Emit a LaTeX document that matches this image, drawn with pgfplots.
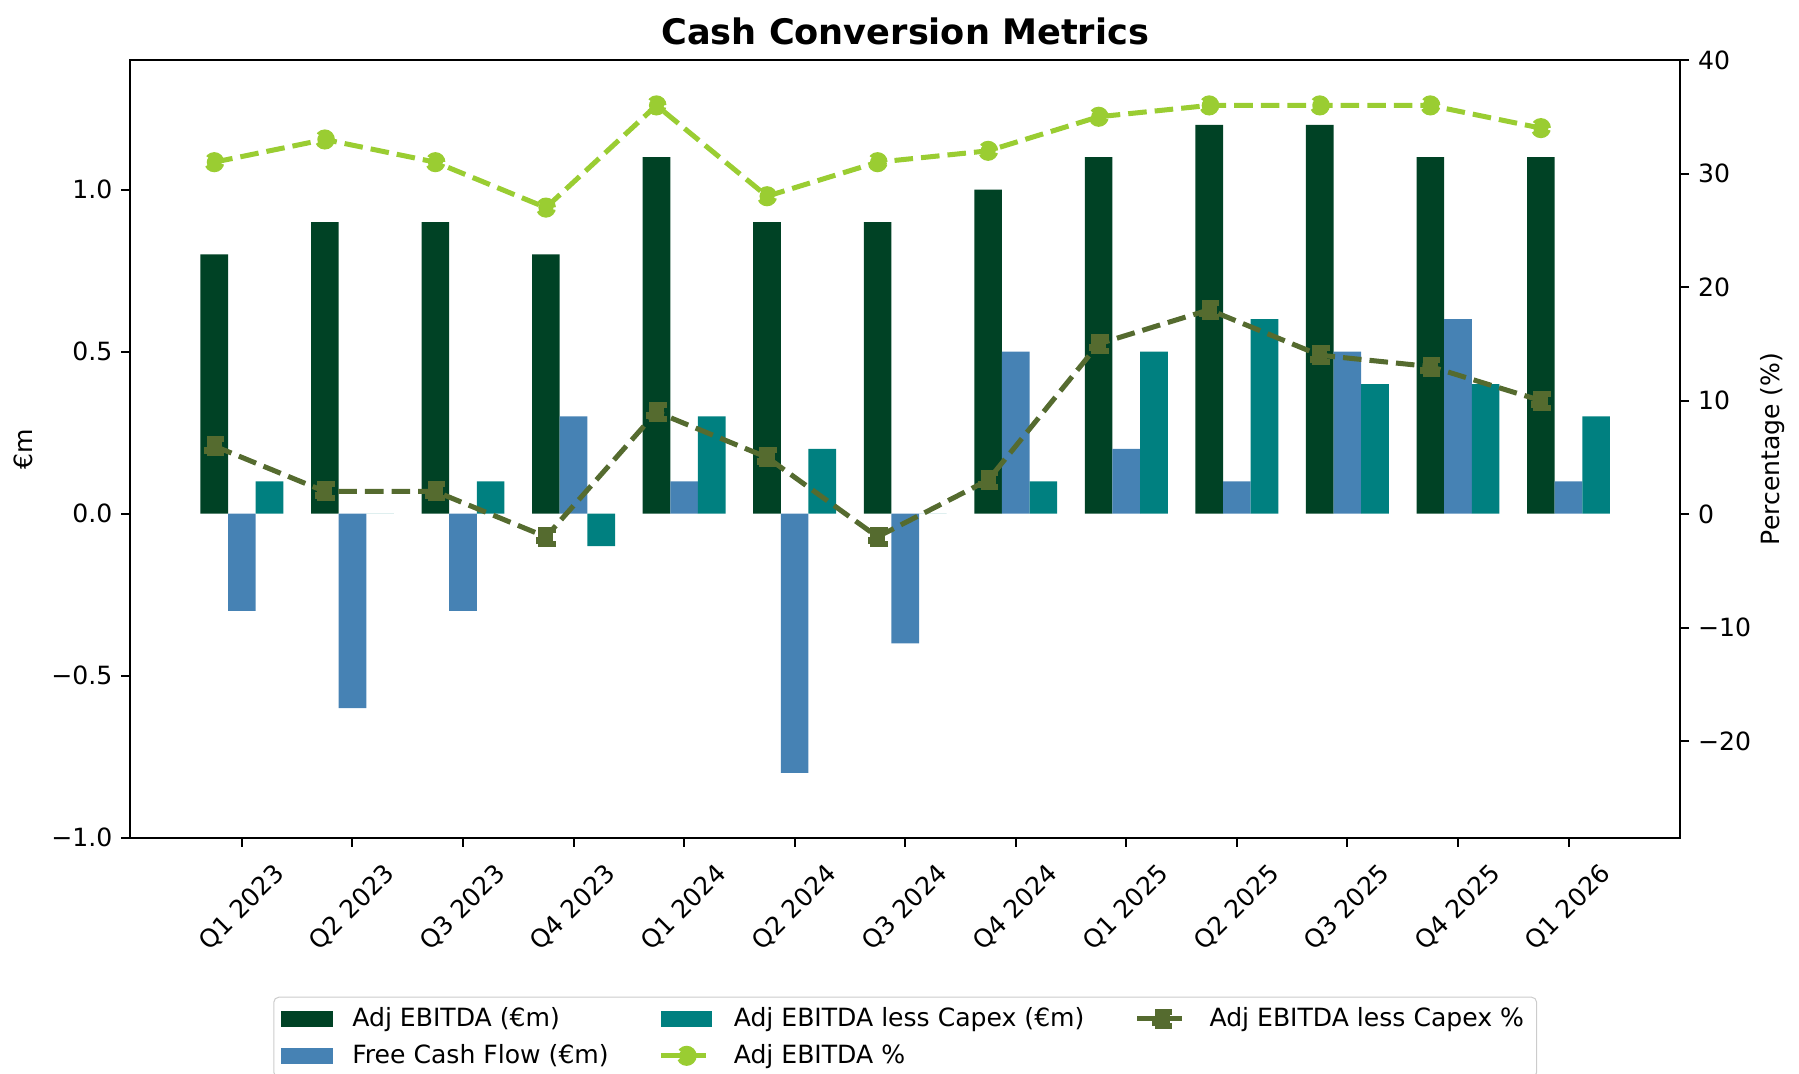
\documentclass[border=0pt]{standalone}
\usepackage{fontspec}
\setmainfont{DejaVu Sans}
\usepackage{pgfplots}
\pgfplotsset{compat=1.18}

\definecolor{ebitda}{HTML}{004225}
\definecolor{fcf}{HTML}{4682B4}
\definecolor{lesscapex}{HTML}{008080}
\definecolor{ebitdapct}{HTML}{9ACD32}
\definecolor{capexpct}{HTML}{556B2F}

\pgfplotsset{
  cashbase/.style={
    scale only axis, width=217.1mm, height=108.9mm,
    at={(0,0)}, anchor=south west,
    xmin=-1.0125, xmax=13.0125,
    tick align=outside, major tick length=3.5pt,
    every tick/.style={black, line width=0.8pt},
    axis line style={line width=0.8pt},
    tick label style={font=\fontsize{10}{12}\selectfont},
    label style={font=\fontsize{10}{12}\selectfont},
  },
  pctline/.style={line width=2pt, dash pattern=on 7.4pt off 3.2pt,
    mark size=3pt, mark options={solid, line width=1pt}},
  barkey/.style={legend image code/.code={\fill[#1, sharp corners] (0mm,-1.05mm) rectangle (7.1mm,1.05mm);}},
}

\begin{document}
\begin{tikzpicture}
% bars, left axis
\begin{axis}[cashbase,
  ymin=-1, ymax=1.4,
  ytick={-1,-0.5,0,0.5,1},
  yticklabels={−1.0,−0.5,0.0,0.5,1.0},
  xtick={0,...,12},
  xticklabels={Q1 2023,Q2 2023,Q3 2023,Q4 2023,Q1 2024,Q2 2024,Q3 2024,Q4 2024,Q1 2025,Q2 2025,Q3 2025,Q4 2025,Q1 2026},
  xtick pos=left, ytick pos=left,
  xticklabel style={yshift=-8.6mm, rotate=45, anchor=center},
  ylabel={€m},
  ylabel style={at={(rel axis cs:-0.069,0.5)}, anchor=center},
  title={Cash Conversion Metrics},
  title style={font=\fontsize{14}{17}\selectfont\bfseries, at={(rel axis cs:0.5,1.017)}, anchor=center},
]
\addplot[ybar, bar width=0.25, bar shift=-0.25, fill=ebitda, draw=none] coordinates {
  (0,0.8) (1,0.9) (2,0.9) (3,0.8) (4,1.1) (5,0.9) (6,0.9)
  (7,1.0) (8,1.1) (9,1.2) (10,1.2) (11,1.1) (12,1.1)};
\addplot[ybar, bar width=0.25, bar shift=0, fill=fcf, draw=none] coordinates {
  (0,-0.3) (1,-0.6) (2,-0.3) (3,0.3) (4,0.1) (5,-0.8) (6,-0.4)
  (7,0.5) (8,0.2) (9,0.1) (10,0.5) (11,0.6) (12,0.1)};
\addplot[ybar, bar width=0.25, bar shift=0.25, fill=lesscapex, draw=none] coordinates {
  (0,0.1) (1,0) (2,0.1) (3,-0.1) (4,0.3) (5,0.2) (6,0)
  (7,0.1) (8,0.5) (9,0.6) (10,0.4) (11,0.4) (12,0.3)};
\end{axis}

% percentage lines, right axis
\begin{axis}[cashbase,
  ymin=-28.5, ymax=40,
  ytick={-20,-10,0,10,20,30,40},
  yticklabels={−20,−10,0,10,20,30,40},
  ytick pos=right, xtick=\empty,
  ylabel={Percentage (\%)},
  ylabel style={at={(rel axis cs:1.0593,0.5)}, anchor=center},
  legend columns=3,
  legend cell align=left,
  legend style={at={(0.5,-0.2044)}, anchor=north, draw=black!20,
    rounded corners=2pt, font=\fontsize{10}{12}\selectfont,
    row sep=0.6mm,
    /tikz/every odd column/.append style={column sep=2mm},
    /tikz/every even column/.append style={column sep=6.3mm}},
  legend image code/.code={\draw[sharp corners, mark repeat=2,mark phase=2,#1]
    plot coordinates {(0mm,0mm) (3.55mm,0mm) (7.1mm,0mm)};},
]
\addlegendimage{barkey=ebitda}
\addlegendentry{Adj EBITDA (€m)}
\addlegendimage{barkey=lesscapex}
\addlegendentry{Adj EBITDA less Capex (€m)}
\addplot[pctline, color=capexpct, mark=square*, mark options={fill=capexpct}] coordinates {
  (-0.25,6) (0.75,2) (1.75,2) (2.75,-2) (3.75,9) (4.75,5) (5.75,-2)
  (6.75,3) (7.75,15) (8.75,18) (9.75,14) (10.75,13) (11.75,10)};
\addlegendentry{Adj EBITDA less Capex \%}
\addlegendimage{barkey=fcf}
\addlegendentry{Free Cash Flow (€m)}
\addplot[pctline, color=ebitdapct, mark=*, mark options={fill=ebitdapct}] coordinates {
  (-0.25,31) (0.75,33) (1.75,31) (2.75,27) (3.75,36) (4.75,28) (5.75,31)
  (6.75,32) (7.75,35) (8.75,36) (9.75,36) (10.75,36) (11.75,34)};
\addlegendentry{Adj EBITDA \%}
\end{axis}
\pgfresetboundingbox
\path[use as bounding box] (-18.2mm,-33.0mm) rectangle (233.7mm,117.3mm);
\end{tikzpicture}
\end{document}
